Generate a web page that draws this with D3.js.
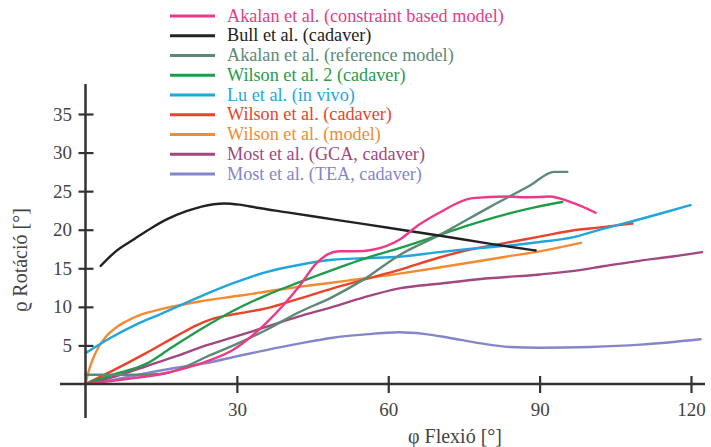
<!DOCTYPE html>
<html>
<head>
<meta charset="utf-8">
<script src="https://cdn.jsdelivr.net/npm/d3@7"></script>
<style>
  body { margin: 0; background: #fff; }
  svg { display: block; font-family: "Liberation Serif", "DejaVu Serif", serif; }
</style>
</head>
<body>
<svg id="chart" width="711" height="447"></svg>
<script>
// ---- data (flexion deg, rotation deg) ----
var seriesNames = [
  "Akalan et al. (constraint based model)",
  "Bull et al. (cadaver)",
  "Akalan et al. (reference model)",
  "Wilson et al. 2 (cadaver)",
  "Lu et al. (in vivo)",
  "Wilson et al. (cadaver)",
  "Wilson et al. (model)",
  "Most et al. (GCA, cadaver)",
  "Most et al. (TEA, cadaver)"
];
var seriesColors = ["#ec3a86", "#222222", "#5b8a76", "#1f9c4a", "#1fa7dd", "#e9432c", "#f38b32", "#a2477f", "#8486c9"];

var akalanConstraint = [[0,0],[10,0.8],[15,1.3],[20,2.1],[23.9,2.9],[29.2,4.4],[35.8,7.9],[42.4,12.7],[45.7,15.6],[48,16.8],[50.3,17.2],[53.6,17.2],[56.9,17.4],[62.2,18.7],[66,20.6],[70.1,22.2],[76.7,24.1],[83.3,24.3],[87.9,24.2],[91.9,24.3],[96.5,23.5],[101.1,22.2]];
var bull = [[3,15.3],[6,17.2],[9.7,18.8],[13,20.2],[16.3,21.4],[20,22.4],[23,23.0],[27.5,23.4],[30.5,23.25],[34,22.85],[40,22.25],[50,21.25],[60,20.25],[70,19.25],[80,18.2],[89.2,17.3]];
var akalanReference = [[0,1.2],[10,1.2],[15.2,1.3],[20,2.3],[23.9,3.5],[30,5.2],[35.8,7.0],[42,9.2],[49,11.3],[55,13.5],[62.2,16.7],[70.1,19.3],[80,22.9],[88,25.7],[92.9,27.5],[95.5,27.5]];
var wilson2 = [[0,0],[5.4,1.2],[12,2.6],[17,4.7],[22.6,7.0],[29,9.4],[35.8,11.5],[42,13.1],[49,14.8],[55,16.2],[62.2,17.6],[70.1,19.3],[76,20.6],[83.3,22.0],[89,22.9],[94.5,23.6]];
var lu = [[0,4.0],[5,6.0],[10,7.7],[15,9.1],[22.6,11.3],[29,13.0],[35.8,14.5],[42,15.4],[49,16.1],[55,16.3],[62.2,16.5],[70.1,17.1],[76,17.5],[83.3,17.9],[90,18.4],[96.5,19.0],[102,20.0],[108.4,21.1],[114,22.1],[119.9,23.2]];
var wilsonCadaver = [[0,0],[5,1.6],[12,4.0],[18,6.2],[22,7.6],[25,8.4],[30,9.1],[35.8,9.8],[42,11.0],[49,12.4],[55,13.5],[62.2,14.8],[70.1,16.4],[76,17.4],[83.3,18.3],[90,19.1],[96.5,19.9],[102,20.3],[108.4,20.8]];
var wilsonModel = [[0,0],[0.6,1.6],[1.5,3.3],[2.6,4.8],[4,6.1],[6,7.3],[8,8.1],[11,9.0],[15,9.7],[22.6,10.7],[30,11.4],[42.4,12.6],[52,13.4],[62.2,14.3],[70.1,15.1],[83.3,16.5],[90,17.2],[98.2,18.3]];
var mostGCA = [[0,0],[6,1.0],[12,2.3],[18,3.6],[23.9,5.0],[30,6.2],[35.8,7.4],[42,8.7],[49,10.0],[55,11.2],[62.2,12.4],[70,13.0],[80,13.7],[90,14.2],[96,14.6],[103,15.3],[110,16.0],[116,16.5],[122.2,17.1]];
var mostTEA = [[0,0],[6,0.6],[12,1.4],[18,2.1],[23.9,2.7],[30,3.6],[35.8,4.4],[42,5.2],[49,6.0],[55,6.4],[62.2,6.7],[67,6.5],[72,6.0],[78,5.3],[84,4.8],[90,4.7],[100,4.8],[110,5.1],[121.9,5.8]];

var seriesData = [akalanConstraint, bull, akalanReference, wilson2, lu, wilsonCadaver, wilsonModel, mostGCA, mostTEA];

var xTicks = [30, 60, 90, 120];
var yTicks = [5, 10, 15, 20, 25, 30, 35];

// ---- scales ----
var svg = d3.select("#chart");
var x = d3.scaleLinear().domain([0, 120]).range([85.5, 691]);
var y = d3.scaleLinear().domain([0, 35]).range([384, 114]);

var axisColor = "#333";
var labelFont = "Liberation Serif, DejaVu Serif, serif";

// ---- curves ----
var line = d3.line()
  .x(function(d) { return x(d[0]); })
  .y(function(d) { return y(d[1]); })
  .curve(d3.curveMonotoneX);

// draw in reverse so the pink one is on top
svg.append("g").selectAll("path")
  .data(seriesData.map(function(d, i) { return { pts: d, i: i }; }).reverse())
  .enter().append("path")
  .attr("d", function(d) { return line(d.pts); })
  .attr("fill", "none")
  .attr("stroke", function(d) { return seriesColors[d.i]; })
  .attr("stroke-width", 2.4)
  .attr("stroke-linecap", "round");

// ---- axes ----
svg.append("line")
  .attr("x1", 60).attr("x2", 705)
  .attr("y1", y(0)).attr("y2", y(0))
  .attr("stroke", axisColor).attr("stroke-width", 2.5);
svg.append("line")
  .attr("x1", x(0)).attr("x2", x(0))
  .attr("y1", 84).attr("y2", 418)
  .attr("stroke", axisColor).attr("stroke-width", 2.5);

var yAxis = svg.append("g")
  .attr("transform", "translate(" + x(0) + ",0)")
  .call(d3.axisLeft(y).tickValues(yTicks).tickSizeInner(7).tickSizeOuter(0).tickPadding(6.5));
yAxis.select(".domain").remove();
yAxis.selectAll(".tick line").attr("x1", 8).attr("x2", -7).attr("stroke", axisColor).attr("stroke-width", 2.2);
yAxis.selectAll(".tick text")
  .attr("font-size", 19).attr("fill", "#444").attr("font-family", labelFont);

var xAxis = svg.append("g")
  .attr("transform", "translate(0," + y(0) + ")")
  .call(d3.axisBottom(x).tickValues(xTicks).tickSizeInner(8).tickSizeOuter(0).tickPadding(11));
xAxis.select(".domain").remove();
xAxis.selectAll(".tick line").attr("y1", -8).attr("y2", 9).attr("stroke", axisColor).attr("stroke-width", 2.2);
xAxis.selectAll(".tick text")
  .attr("font-size", 19).attr("fill", "#444").attr("font-family", labelFont);

// axis titles
svg.append("text")
  .attr("x", 455).attr("y", 443)
  .attr("text-anchor", "middle")
  .attr("font-size", 20).attr("fill", "#444")
  .text("φ Flexió [°]");

svg.append("text")
  .attr("transform", "translate(27,260) rotate(-90)")
  .attr("text-anchor", "middle")
  .attr("font-size", 20).attr("fill", "#444")
  .text("ϱ Rotáció [°]");

// ---- legend ----
var legend = svg.append("g").selectAll("g")
  .data(seriesNames)
  .enter().append("g")
  .attr("transform", function(d, i) { return "translate(170," + (16 + i * 19.75) + ")"; });

legend.append("line")
  .attr("x1", 0).attr("x2", 45)
  .attr("stroke", function(d, i) { return seriesColors[i]; })
  .attr("stroke-width", 3);

legend.append("text")
  .attr("x", 57).attr("y", 5.5)
  .attr("font-size", 18.2)
  .attr("fill", function(d, i) { return seriesColors[i]; })
  .text(function(d) { return d; });
</script>
</body>
</html>
